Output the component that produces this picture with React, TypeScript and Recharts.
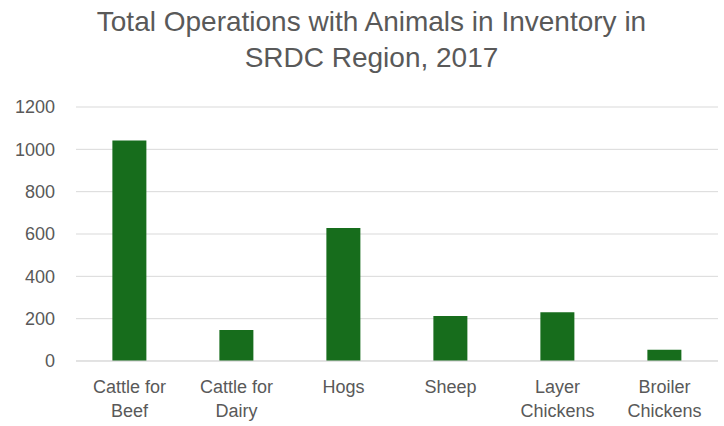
import React from "react";
import { BarChart, Bar, XAxis, YAxis, CartesianGrid } from "recharts";

const categories = [
  "Cattle for\nBeef",
  "Cattle for\nDairy",
  "Hogs",
  "Sheep",
  "Layer\nChickens",
  "Broiler\nChickens",
];
const operations = [1042, 147, 628, 213, 230, 53];
const yTicks = [0, 200, 400, 600, 800, 1000, 1200];
const titleLines = ["Total Operations with Animals in Inventory in", "SRDC Region, 2017"];

const data = categories.map((c, i) => ({ name: c, value: operations[i] }));

const FONT = "'Liberation Sans', Arial, sans-serif";
const TEXT = "#595959";

const XTick = (props: any) => {
  const { x, y, payload } = props;
  const lines = String(payload.value).split("\n");
  return (
    <text x={x} y={y} textAnchor="middle" fill={TEXT} fontFamily={FONT} fontSize={18}>
      {lines.map((l, i) => (
        <tspan key={i} x={x} y={y + 24 + i * 24}>
          {l}
        </tspan>
      ))}
    </text>
  );
};

export default function App() {
  return (
    <div style={{ position: "absolute", left: 0, top: 0, width: 724, height: 426, background: "#fff" }}>
      <div
        style={{
          position: "absolute",
          left: 0,
          top: 4,
          width: 743,
          textAlign: "center",
          fontFamily: FONT,
          fontSize: 28,
          lineHeight: "36px",
          color: TEXT,
        }}
      >
        {titleLines.map((t, i) => (
          <div key={i}>{t}</div>
        ))}
      </div>
      <BarChart
        width={724}
        height={426}
        data={data}
        margin={{ top: 107, right: 6, bottom: 0, left: 16 }}
        barCategoryGap="34%"
      >
        <CartesianGrid vertical={false} stroke="#d9d9d9" strokeWidth={1} />
        <XAxis
          dataKey="name"
          tickLine={false}
          axisLine={{ stroke: "#d9d9d9" }}
          tick={<XTick />}
          interval={0}
          height={65}
        />
        <YAxis
          width={60}
          domain={[0, 1200]}
          ticks={yTicks}
          tickLine={false}
          axisLine={false}
          tickMargin={15}
          tick={{ fill: TEXT, fontFamily: FONT, fontSize: 18 }}
        />
        <Bar dataKey="value" fill="#176d1c" isAnimationActive={false} />
      </BarChart>
    </div>
  );
}
